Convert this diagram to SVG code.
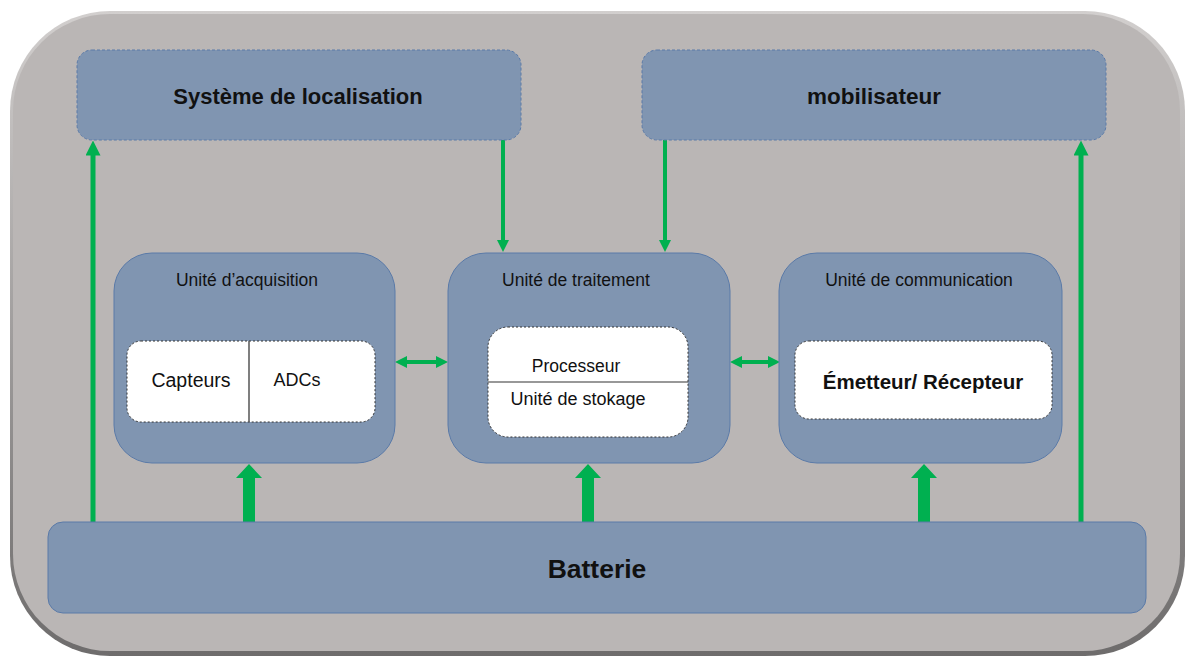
<svg xmlns="http://www.w3.org/2000/svg" width="1192" height="657" viewBox="0 0 1192 657">
<defs>
<style>
.blk{fill:#8095b1;stroke:#5a7aa8;stroke-width:1}
.dash{stroke-dasharray:3 2}
.inner{fill:#ffffff;stroke:#333;stroke-width:1;stroke-dasharray:2 2}
.t{font-family:"Liberation Sans",Arial,sans-serif;fill:#111}
.b{font-weight:bold}
.g{stroke:#00b050;fill:none}
</style>
<linearGradient id="edge" x1="0" y1="0" x2="0" y2="1">
<stop offset="0" stop-color="#d2cfce"/>
<stop offset="1" stop-color="#6e6c6c"/>
</linearGradient>
<marker id="ah" viewBox="0 0 10 10" refX="5" refY="5" markerWidth="3" markerHeight="3" orient="auto-start-reverse" markerUnits="strokeWidth">
<path d="M0,0 L10,5 L0,10 z" fill="#00b050"/>
</marker>
</defs>
<rect width="1192" height="657" fill="#ffffff"/>
<g id="frame">
<rect x="10" y="11" width="1175" height="645" rx="100" fill="url(#edge)"/>
<rect x="13" y="14" width="1167" height="637" rx="97" fill="#bab6b5"/>
</g>
<g id="connectors">
<line class="g" x1="93" y1="522" x2="93" y2="148" stroke-width="5" marker-end="url(#ah)"/>
<line class="g" x1="1081" y1="522" x2="1081" y2="148" stroke-width="5" marker-end="url(#ah)"/>
<line class="g" x1="503" y1="140" x2="503" y2="246" stroke-width="4" marker-end="url(#ah)"/>
<line class="g" x1="665" y1="140" x2="665" y2="246" stroke-width="4" marker-end="url(#ah)"/>
<line class="g" x1="401" y1="362" x2="442" y2="362" stroke-width="4" marker-start="url(#ah)" marker-end="url(#ah)"/>
<line class="g" x1="736" y1="362" x2="774" y2="362" stroke-width="4" marker-start="url(#ah)" marker-end="url(#ah)"/>
<path d="M243,522 V478 H236 L249,464 L262,478 H255 V522 Z" fill="#00b050"/>
<path d="M582,522 V478 H575 L588,464 L601,478 H594 V522 Z" fill="#00b050"/>
<path d="M918,522 V478 H911 L924,464 L937,478 H930 V522 Z" fill="#00b050"/>
</g>
<g id="loc">
<rect class="blk dash" x="77" y="50" width="444" height="90" rx="15"/>
<text class="t b" x="298" y="104" font-size="22" text-anchor="middle">Système de localisation</text>
</g>
<g id="mob">
<rect class="blk dash" x="642" y="50" width="464" height="90" rx="15"/>
<text class="t b" x="874" y="104" font-size="22.5" text-anchor="middle">mobilisateur</text>
</g>
<g id="acq">
<rect class="blk" x="114" y="253" width="281" height="210" rx="38"/>
<text class="t" x="247" y="286" font-size="17.5" text-anchor="middle">Unité d’acquisition</text>
<rect class="inner" x="127" y="341" width="248" height="81" rx="14"/>
<line x1="249" y1="341" x2="249" y2="422" stroke="#555" stroke-width="1.5"/>
<text class="t" x="191" y="387" font-size="19.5" text-anchor="middle">Capteurs</text>
<text class="t" x="297" y="386" font-size="18" text-anchor="middle">ADCs</text>
</g>
<g id="trait">
<rect class="blk" x="448" y="253" width="282" height="210" rx="38"/>
<text class="t" x="576" y="286" font-size="17.5" text-anchor="middle">Unité de traitement</text>
<rect class="inner" x="488" y="327" width="200" height="110" rx="20"/>
<line x1="488" y1="382" x2="688" y2="382" stroke="#333" stroke-width="1.2"/>
<text class="t" x="576" y="372" font-size="17.5" text-anchor="middle">Processeur</text>
<text class="t" x="578" y="405" font-size="18" text-anchor="middle">Unité de stokage</text>
</g>
<g id="comm">
<rect class="blk" x="779" y="253" width="283" height="210" rx="38"/>
<text class="t" x="919" y="286" font-size="17.5" text-anchor="middle">Unité de communication</text>
<rect class="inner" x="795" y="341" width="257" height="78" rx="14"/>
<text class="t b" x="923" y="389" font-size="20.5" text-anchor="middle">Émetteur/ Récepteur</text>
</g>
<g id="batt">
<rect class="blk" x="48" y="522" width="1098" height="91" rx="15"/>
<text class="t b" x="597" y="578" font-size="26.5" text-anchor="middle">Batterie</text>
</g>
</svg>
